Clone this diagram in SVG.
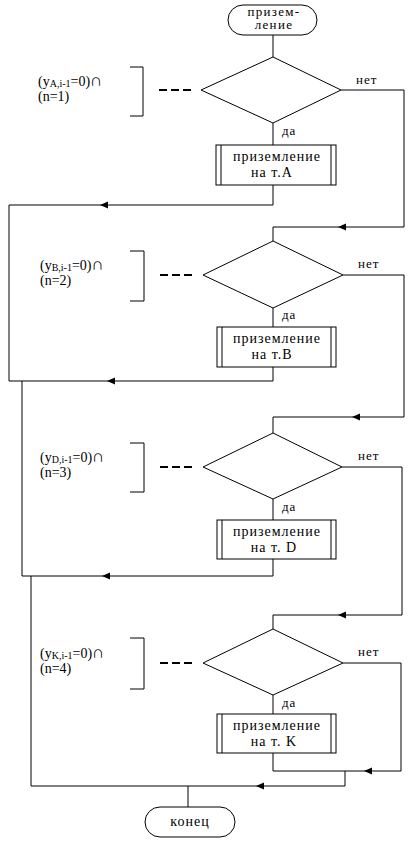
<svg xmlns="http://www.w3.org/2000/svg" width="417" height="842" viewBox="0 0 417 842">
<style>
.ln{fill:none;stroke:#000;stroke-width:1}
.sh{fill:#fff;stroke:#000;stroke-width:1}
.ds{fill:none;stroke:#000;stroke-width:2;stroke-dasharray:8 4}
.t{font-family:"Liberation Serif",serif;font-size:14px;letter-spacing:1px;fill:#000}
.st{font-family:"Liberation Serif",serif;font-size:13px;letter-spacing:1.3px;fill:#000}
.s{font-family:"Liberation Serif",serif;font-size:13px;letter-spacing:1px;fill:#000}
.f{font-family:"Liberation Serif",serif;font-size:14px;fill:#000}
.sub{font-size:10px}
.cap{font-size:17px}
</style>
<defs>
<path id="aL" d="M0,0 L8,-3.5 L8,3.5 Z" fill="#000"/>
</defs>
<rect width="417" height="842" fill="#fff"/>
<g id="connectors">
<path class="ln" d="M273,35 V57"/>
<path class="ln" d="M273,123 V145"/>
<path class="ln" d="M273,185 V205 H9 V381"/>
<path class="ln" d="M341,90 H404 V227 H273 V241"/>
<path class="ln" d="M273,308 V327"/>
<path class="ln" d="M273,367 V381 H9"/>
<path class="ln" d="M22,381 V576"/>
<path class="ln" d="M343,275 H404 V417 H273 V433"/>
<path class="ln" d="M273,499 V520"/>
<path class="ln" d="M273,559 V576 H22"/>
<path class="ln" d="M31,576 V786"/>
<path class="ln" d="M342,467 H402 V615 H273 V629"/>
<path class="ln" d="M273,695 V714"/>
<path class="ln" d="M273,753 V771 H401 V663 H343"/>
<path class="ln" d="M345,771 V786 H31"/>
<path class="ln" d="M188,786 V807"/>
<use href="#aL" x="100" y="205"/>
<use href="#aL" x="338" y="227"/>
<use href="#aL" x="107" y="381"/>
<use href="#aL" x="352" y="417"/>
<use href="#aL" x="102" y="576"/>
<use href="#aL" x="338" y="615"/>
<use href="#aL" x="364" y="771"/>
<use href="#aL" x="256" y="786"/>
</g>
<g id="start">
<rect class="sh" x="228" y="5" width="89" height="30" rx="15"/>
<text class="st" x="274" y="15.5" text-anchor="middle">призем-</text>
<text class="st" x="274" y="29" text-anchor="middle">ление</text>
</g>
<g id="dec1">
<polygon class="sh" points="273,57 341,90 273,123 201,90"/>
<text class="s" x="356" y="84">нет</text>
<text class="s" x="282" y="135">да</text>
</g>
<g id="cond1">
<text class="f" x="38" y="86">(y<tspan class="sub" dy="1">A,i-1</tspan><tspan dy="-1">=0)</tspan><tspan class="cap">∩</tspan></text>
<text class="f" x="38" y="101">(n=1)</text>
<path class="ln" d="M130,67 H143 V116 H130"/>
<path class="ds" d="M159,90 H192"/>
</g>
<g id="proc1">
<rect class="sh" x="216" y="145" width="120" height="40"/>
<path class="ln" d="M221,145 V185 M331,145 V185"/>
<text class="t" x="277" y="161" text-anchor="middle">приземление</text>
<text class="t" x="272" y="177" text-anchor="middle">на т.A</text>
</g>
<g id="dec2">
<polygon class="sh" points="273,241 343,275 273,308 203,275"/>
<text class="s" x="358" y="268">нет</text>
<text class="s" x="282" y="319">да</text>
</g>
<g id="cond2">
<text class="f" x="40" y="270">(y<tspan class="sub" dy="1">B,i-1</tspan><tspan dy="-1">=0)</tspan><tspan class="cap">∩</tspan></text>
<text class="f" x="40" y="285">(n=2)</text>
<path class="ln" d="M130,251 H144 V301 H130"/>
<path class="ds" d="M160,275 H192"/>
</g>
<g id="proc2">
<rect class="sh" x="217" y="327" width="119" height="40"/>
<path class="ln" d="M222,327 V367 M331,327 V367"/>
<text class="t" x="277" y="343" text-anchor="middle">приземление</text>
<text class="t" x="272" y="359" text-anchor="middle">на т.B</text>
</g>
<g id="dec3">
<polygon class="sh" points="273,433 342,467 273,499 203,467"/>
<text class="s" x="358" y="460">нет</text>
<text class="s" x="282" y="511">да</text>
</g>
<g id="cond3">
<text class="f" x="40" y="462">(y<tspan class="sub" dy="1">D,i-1</tspan><tspan dy="-1">=0)</tspan><tspan class="cap">∩</tspan></text>
<text class="f" x="40" y="477">(n=3)</text>
<path class="ln" d="M130,443 H144 V492 H130"/>
<path class="ds" d="M160,467 H192"/>
</g>
<g id="proc3">
<rect class="sh" x="217" y="520" width="119" height="39"/>
<path class="ln" d="M222,520 V559 M331,520 V559"/>
<text class="t" x="277" y="536" text-anchor="middle">приземление</text>
<text class="t" x="274" y="552" text-anchor="middle">на т. D</text>
</g>
<g id="dec4">
<polygon class="sh" points="273,629 343,663 273,695 203,663"/>
<text class="s" x="358" y="656">нет</text>
<text class="s" x="282" y="707">да</text>
</g>
<g id="cond4">
<text class="f" x="40" y="658">(y<tspan class="sub" dy="1">K,i-1</tspan><tspan dy="-1">=0)</tspan><tspan class="cap">∩</tspan></text>
<text class="f" x="40" y="673">(n=4)</text>
<path class="ln" d="M130,638 H144 V689 H130"/>
<path class="ds" d="M160,663 H192"/>
</g>
<g id="proc4">
<rect class="sh" x="217" y="714" width="119" height="39"/>
<path class="ln" d="M222,714 V753 M331,714 V753"/>
<text class="t" x="277" y="730" text-anchor="middle">приземление</text>
<text class="t" x="274" y="746" text-anchor="middle">на т. K</text>
</g>
<g id="end">
<rect class="sh" x="145" y="807" width="90" height="30" rx="15"/>
<text class="t" x="190" y="826" text-anchor="middle">конец</text>
</g>
</svg>
